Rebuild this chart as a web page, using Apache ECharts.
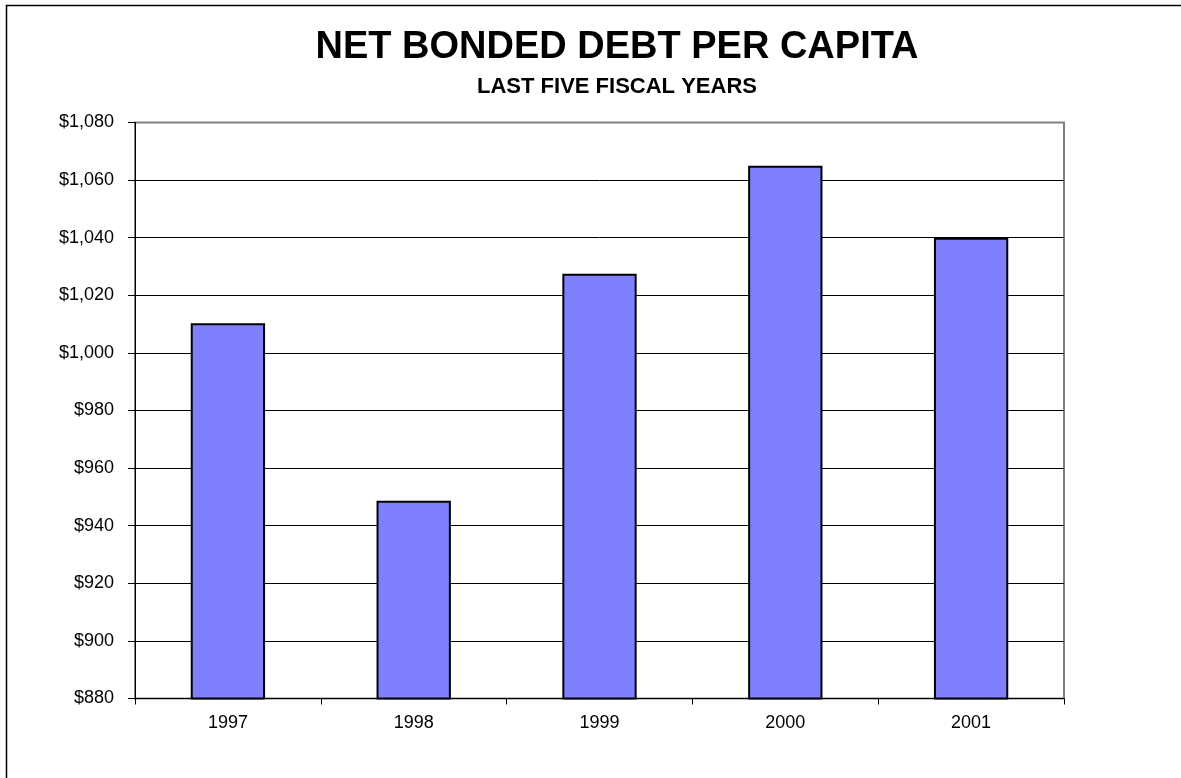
<!DOCTYPE html>
<html>
<head>
<meta charset="utf-8">
<title>Net Bonded Debt Per Capita</title>
<script src="https://cdn.jsdelivr.net/npm/echarts@6/dist/echarts.min.js"></script>
<style>
  html, body { margin: 0; padding: 0; background: #ffffff; }
  #chart { width: 1181px; height: 778px; }
</style>
</head>
<body>
<div id="chart"></div>
<script>
// Fiscal years and net bonded debt per capita (dollars)
const years = ['1997', '1998', '1999', '2000', '2001'];
const debtPerCapita = [1010.3, 948.7, 1027.5, 1065.0, 1040.0];

// Value axis range and step
const axisMin = 880;
const axisMax = 1080;
const axisStep = 20;

const titleText = 'NET BONDED DEBT PER CAPITA';
const subtitleText = 'LAST FIVE FISCAL YEARS';

const FONT = '"Liberation Sans", Arial, sans-serif';

const chart = echarts.init(document.getElementById('chart'), null, { renderer: 'canvas' });

function dollars(v) {
  return '$' + Math.round(v).toLocaleString('en-US');
}

// Gridlines are black; the top one belongs to the grey plot frame.
const gridLineCount = Math.round((axisMax - axisMin) / axisStep) + 1;
const gridLineColors = [];
for (let i = 0; i < gridLineCount; i++) {
  gridLineColors.push(i === gridLineCount - 1 ? '#808080' : '#000000');
}

const titleX = 617;

chart.setOption({
  animation: false,
  backgroundColor: '#ffffff',
  grid: {
    left: 135,
    top: 122.5,
    right: 117,
    bottom: 79.5,
    show: true,
    borderColor: '#808080',
    borderWidth: 2,
    backgroundColor: 'transparent'
  },
  graphic: [
    {
      type: 'rect',
      silent: true,
      shape: { x: 6.5, y: 5.5, width: 1400, height: 1000 },
      style: { fill: 'none', stroke: '#000000', lineWidth: 1.5 }
    },
    {
      type: 'text',
      silent: true,
      x: titleX,
      y: 47.5,
      style: {
        text: titleText,
        font: 'bold 38px ' + FONT,
        fill: '#000000',
        align: 'center',
        verticalAlign: 'middle'
      }
    },
    {
      type: 'text',
      silent: true,
      x: titleX,
      y: 86.5,
      style: {
        text: subtitleText,
        font: 'bold 22px ' + FONT,
        fill: '#000000',
        align: 'center',
        verticalAlign: 'middle'
      }
    }
  ],
  xAxis: {
    type: 'category',
    data: years,
    boundaryGap: true,
    axisLine: { show: true, lineStyle: { color: '#000000', width: 1 } },
    axisTick: { show: true, length: 6, inside: false, lineStyle: { color: '#000000', width: 1 } },
    axisLabel: { color: '#000000', fontFamily: FONT, fontSize: 18, margin: 16 },
    splitLine: { show: false }
  },
  yAxis: {
    type: 'value',
    min: axisMin,
    max: axisMax,
    interval: axisStep,
    axisLine: { show: true, lineStyle: { color: '#000000', width: 1 } },
    axisTick: { show: true, length: 7, lineStyle: { color: '#000000', width: 1 } },
    axisLabel: {
      color: '#000000',
      fontFamily: FONT,
      fontSize: 18,
      margin: 21,
      formatter: dollars
    },
    splitLine: { show: true, lineStyle: { color: gridLineColors, width: 1 } }
  },
  series: [
    {
      type: 'bar',
      data: debtPerCapita,
      barWidth: '40%',
      itemStyle: {
        color: '#8080FF',
        borderColor: '#000000',
        borderWidth: 2
      },
      emphasis: { disabled: true }
    }
  ]
});
</script>
</body>
</html>
